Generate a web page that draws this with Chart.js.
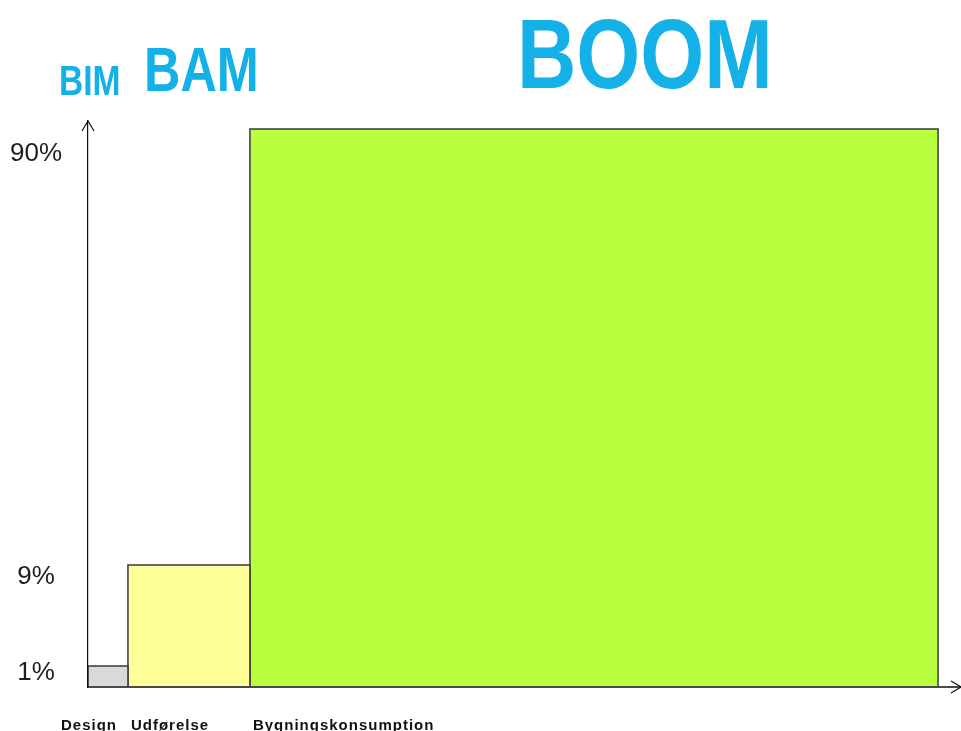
<!DOCTYPE html>
<html>
<head>
<meta charset="utf-8">
<script src="https://cdn.jsdelivr.net/npm/chart.js@4.4.1/dist/chart.umd.min.js"></script>
<style>
  body { margin: 0; background: #fff; }
  #wrap { position: relative; width: 961px; height: 731px; overflow: hidden; }
  .head {
    position: absolute;
    font-family: "Liberation Sans", Arial, sans-serif;
    font-weight: bold;
    line-height: 1;
    color: #14b0e8;
    transform-origin: left top;
    white-space: nowrap;
  }
</style>
</head>
<body>
<div id="wrap">
  <canvas id="phaseChart" width="961" height="731"></canvas>
  <div class="head" style="left:59px; top:60px; font-size:42px; transform:scaleX(0.8);">BIM</div>
  <div class="head" style="left:144px; top:38px; font-size:63px; transform:scaleX(0.8);">BAM</div>
  <div class="head" style="left:517px; top:4px; font-size:99px; transform:scaleX(0.83);">BOOM</div>
</div>
<script>
// Building life phases: share of the time line and share of the total cost
const phases = ['Design', 'Udførelse', 'Bygningskonsumption'];
const phaseShare = [4.7, 14.35, 80.95];   // width on the time axis
const costShare = [1, 9, 90];             // percent
const tickValues = [1, 9, 90];
const phaseColors = ['#d9d9d9', '#ffff99', '#b8ff3e'];

// Y axis is illustrative, not linear: value -> fraction of axis height
class StretchScale extends Chart.LinearScale {
    static id = 'stretch';
    static defaults = Chart.LinearScale.defaults;

    getPixelForValue(value) {
        const pts = this.options.breaks;
        let f = 1;
        for (let i = 1; i < pts.length; i++) {
            if (value <= pts[i][0]) {
                const [v0, d0] = pts[i - 1];
                const [v1, d1] = pts[i];
                f = d0 + (value - v0) / (v1 - v0) * (d1 - d0);
                break;
            }
        }
        return this.getPixelForDecimal(f);
    }

    getValueForPixel(pixel) {
        const pts = this.options.breaks;
        const f = this.getDecimalForPixel(pixel);
        for (let i = 1; i < pts.length; i++) {
            if (f <= pts[i][1]) {
                const [v0, d0] = pts[i - 1];
                const [v1, d1] = pts[i];
                return v0 + (f - d0) / (d1 - d0) * (v1 - v0);
            }
        }
        return pts[pts.length - 1][0];
    }

    // labels sit a little below their tick
    getPixelForTick(index) {
        const px = super.getPixelForTick(index);
        const nudge = this.options.labelNudge || [];
        return px === null ? px : px + (nudge[index] || 0);
    }
}
Chart.register(StretchScale);

// one closed outline per phase, filled down to zero
let start = 0;
const datasets = phases.map((name, i) => {
    const end = start + phaseShare[i];
    const ds = {
        label: name,
        data: [
            { x: start, y: 0 },
            { x: start, y: costShare[i] },
            { x: end, y: costShare[i] },
            { x: end, y: 0 }
        ],
        backgroundColor: phaseColors[i],
        borderColor: '#3a3a3a',
        borderWidth: 1.5,
        fill: 'origin',
        pointRadius: 0,
        tension: 0
    };
    ds.phaseStart = start;
    start = end;
    return ds;
});

const axisArrows = {
    id: 'axisArrows',
    afterDraw(chart) {
        const { ctx, chartArea: a } = chart;
        ctx.save();
        ctx.strokeStyle = '#111';
        ctx.lineWidth = 1.2;
        ctx.beginPath();
        ctx.moveTo(a.left - 6, a.top + 10);
        ctx.lineTo(a.left, a.top);
        ctx.lineTo(a.left + 6, a.top + 10);
        ctx.moveTo(a.right - 10, a.bottom - 6);
        ctx.lineTo(a.right, a.bottom);
        ctx.lineTo(a.right - 10, a.bottom + 6);
        ctx.stroke();
        ctx.restore();
    }
};

const phaseLabels = {
    id: 'phaseLabels',
    afterDraw(chart) {
        const { ctx } = chart;
        const x = chart.scales.x;
        ctx.save();
        ctx.font = 'bold 15px "Liberation Sans", Arial, sans-serif';
        ctx.letterSpacing = '1px';
        ctx.fillStyle = '#111';
        ctx.textBaseline = 'alphabetic';
        phases.forEach((name, i) => {
            const px = x.getPixelForValue(datasets[i].phaseStart);
            if (i === 0) {
                ctx.textAlign = 'center';
                ctx.fillText(name, px + 1, 730);
            } else {
                ctx.textAlign = 'left';
                ctx.fillText(name, px + 3, 730);
            }
        });
        ctx.restore();
    }
};

new Chart(document.getElementById('phaseChart'), {
    type: 'line',
    data: { datasets },
    options: {
        responsive: false,
        animation: false,
        layout: { padding: { top: 121, right: 0, bottom: 0, left: 0 } },
        plugins: {
            legend: { display: false },
            tooltip: { enabled: false }
        },
        scales: {
            x: {
                type: 'linear',
                min: 0,
                max: 102.7,
                grid: { display: false },
                ticks: { display: false },
                border: { display: true, color: '#4a4a4a', width: 2, z: 1 },
                afterFit: s => { s.height = 44; }
            },
            y: {
                type: 'stretch',
                min: 0,
                max: 92,
                breaks: [[0, 0], [1, 0.037], [9, 0.2155], [90, 0.986], [92, 1]],
                labelNudge: [7, 12, 25],
                grid: { display: false },
                border: { display: true, color: '#111', width: 1.2, z: 1 },
                afterBuildTicks: s => { s.ticks = tickValues.map(v => ({ value: v })); },
                afterFit: s => { s.width = 88; },
                ticks: {
                    crossAlign: 'center',
                    padding: 18,
                    color: '#1e1e1e',
                    font: { family: '"Liberation Sans", Arial, sans-serif', size: 26 },
                    callback: v => v + '%'
                }
            }
        }
    },
    plugins: [axisArrows, phaseLabels]
});
</script>
</body>
</html>
